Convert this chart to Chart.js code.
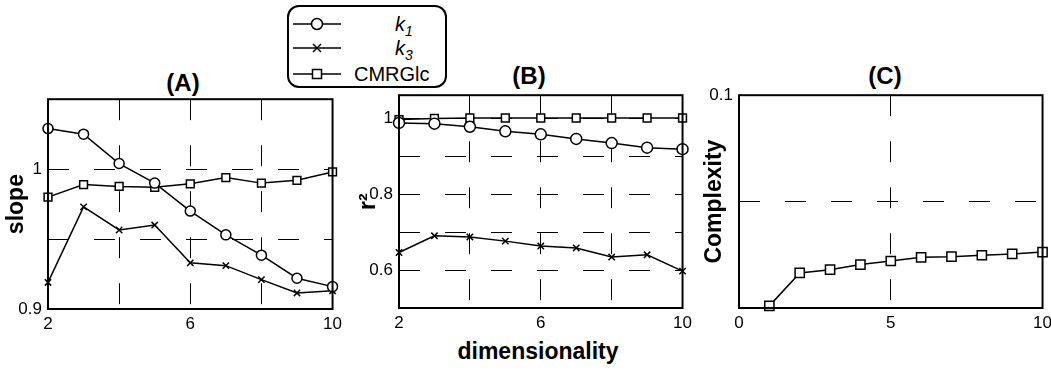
<!DOCTYPE html>
<html>
<head>
<meta charset="utf-8">
<script src="https://cdn.jsdelivr.net/npm/chart.js@4/dist/chart.umd.min.js"></script>
<style>
  body { margin: 0; background: #fff; width: 1051px; height: 372px; position: relative; overflow: hidden; font-family: "Liberation Sans", Arial, sans-serif; }
  canvas { position: absolute; }
  .ttl { position: absolute; font-weight: bold; font-size: 24px; line-height: 24px; transform: translate(-50%, -50%); white-space: nowrap; }
  #legend { position: absolute; left: 287px; top: 5px; width: 156px; height: 79px; border: 2px solid #000; border-radius: 12px; }
  .row { position: absolute; left: 4px; height: 22px; font-size: 20px; line-height: 22px; }
  .row svg { position: absolute; left: 0; top: 1px; }
  .row span { position: absolute; white-space: nowrap; }
</style>
</head>
<body>
<div class="ttl" style="left:183px; top:83px">(A)</div>
<div class="ttl" style="left:529px; top:76px">(B)</div>
<div class="ttl" style="left:885px; top:76px">(C)</div>

<div id="legend">
  <div class="row" style="top:6px">
    <svg width="48" height="20"><line x1="0" y1="10" x2="48" y2="10" stroke="#000" stroke-width="1.5"/><circle cx="24" cy="10" r="5.5" fill="#fff" stroke="#000" stroke-width="1.5"/></svg>
    <span style="left:102px; font-style:italic">k<sub style="font-size:14px">1</sub></span>
  </div>
  <div class="row" style="top:30px">
    <svg width="48" height="20"><line x1="0" y1="10" x2="48" y2="10" stroke="#000" stroke-width="1.5"/><path d="M20 6 L28 14 M28 6 L20 14" stroke="#000" stroke-width="1.5"/></svg>
    <span style="left:102px; font-style:italic">k<sub style="font-size:14px">3</sub></span>
  </div>
  <div class="row" style="top:56px">
    <svg width="48" height="20"><line x1="0" y1="10" x2="48" y2="10" stroke="#000" stroke-width="1.5"/><rect x="19.5" y="5.5" width="9" height="9" fill="#fff" stroke="#000" stroke-width="1.5"/></svg>
    <span style="left:61px">CMRGlc</span>
  </div>
</div>

<div class="ttl" style="left:538px; top:351px; font-size:23px">dimensionality</div>

<canvas id="chartA" width="347" height="266" style="left:0px; top:83px"></canvas>
<canvas id="chartB" width="352" height="269" style="left:345px; top:79px"></canvas>
<canvas id="chartC" width="362" height="269" style="left:695px; top:79px"></canvas>

<script>
// x values
const dims = [2, 3, 4, 5, 6, 7, 8, 9, 10];
const complexityDims = [1, 2, 3, 4, 5, 6, 7, 8, 9, 10];

// (A) slope
const slopeK1 = [1.029, 1.025, 1.004, 0.990, 0.970, 0.953, 0.9385, 0.922, 0.916];
const slopeK3 = [0.919, 0.973, 0.9565, 0.960, 0.933, 0.931, 0.921, 0.9115, 0.913];
const slopeCMRGlc = [0.980, 0.989, 0.9876, 0.987, 0.9895, 0.994, 0.990, 0.992, 0.998];

// (B) r^2
const r2K1 = [0.987, 0.985, 0.977, 0.965, 0.957, 0.945, 0.934, 0.922, 0.918];
const r2K3 = [0.646, 0.690, 0.687, 0.676, 0.663, 0.658, 0.634, 0.640, 0.597];
const r2CMRGlc = [0.996, 0.999, 1.0, 1.0, 1.0, 1.0, 1.0, 1.0, 1.0];

// (C) complexity
const complexityVals = [0.001, 0.0165, 0.018, 0.0204, 0.0221, 0.0238, 0.0241, 0.0248, 0.0254, 0.0263];

// tick labels that are shown
const slopeTickLabels = [0.9, 1];
const r2TickLabels = [0.6, 0.8, 1];
const complexityTickLabels = [0.1];
const dimTickLabels = [2, 6, 10];
const complexityDimTickLabels = [0, 5, 10];

const FONT = "'Liberation Sans', Arial, sans-serif";

function pts(xs, ys) {
  return xs.map((x, i) => ({ x: x, y: ys[i] }));
}

function onlyLabels(list) {
  return function(v) {
    for (let i = 0; i < list.length; i++) {
      if (Math.abs(v - list[i]) < 1e-6) return String(list[i]);
    }
    return "";
  };
}

// black box around the plot area
const frame = {
  id: "frame",
  afterDraw(chart) {
    const a = chart.chartArea;
    const ctx = chart.ctx;
    ctx.save();
    ctx.strokeStyle = "#000";
    ctx.lineWidth = 2;
    ctx.strokeRect(a.left, a.top, a.right - a.left, a.bottom - a.top);
    ctx.restore();
  }
};

function series(data, style, radius) {
  return {
    data: data,
    borderColor: "#000",
    borderWidth: 1.5,
    backgroundColor: "#fff",
    pointStyle: style,
    pointRadius: radius,
    pointBorderWidth: 1.5,
    pointBackgroundColor: "#fff",
    pointBorderColor: "#000",
    tension: 0,
    clip: false
  };
}

function panel(id, datasets, o) {
  new Chart(document.getElementById(id), {
    type: "line",
    data: { datasets: datasets },
    plugins: [frame],
    options: {
      responsive: false,
      animation: false,
      events: [],
      layout: { padding: { top: 12, right: 12, left: 0, bottom: 0 } },
      plugins: { legend: { display: false }, tooltip: { enabled: false } },
      scales: {
        x: {
          type: "linear",
          min: o.xmin, max: o.xmax,
          afterFit(s) { s.height = 40; },
          ticks: { stepSize: o.xstep, callback: onlyLabels(o.xlabels), color: "#000", padding: 5, maxRotation: 0, autoSkip: false, font: { family: FONT, size: 17 } },
          grid: { color: "#000", lineWidth: 1, drawTicks: false },
          border: { display: false, dash: [21, 25] }
        },
        y: {
          type: "linear",
          min: o.ymin, max: o.ymax,
          afterFit(s) { s.width = o.yWidth; },
          ticks: { stepSize: o.ystep, callback: onlyLabels(o.ylabels), color: "#000", padding: 6, autoSkip: false, font: { family: FONT, size: 17 } },
          grid: { color: "#000", lineWidth: 1, drawTicks: false },
          border: { display: false, dash: [21, 25] },
          title: { display: true, text: o.ytitle, color: "#000", padding: { top: o.titlePad, bottom: 0 }, font: { family: FONT, size: 23, weight: "bold" } }
        }
      }
    }
  });
}

panel("chartA", [
  series(pts(dims, slopeK1), "circle", 5),
  series(pts(dims, slopeK3), "crossRot", 4.5),
  series(pts(dims, slopeCMRGlc), "rect", 5.5)
], { xmin: 2, xmax: 10, xstep: 2, xlabels: dimTickLabels, ymin: 0.9, ymax: 1.05, ystep: 0.05, ylabels: slopeTickLabels, yWidth: 48, ytitle: "slope", titlePad: 3 });

panel("chartB", [
  series(pts(dims, r2K1), "circle", 5.5),
  series(pts(dims, r2K3), "crossRot", 4.5),
  series(pts(dims, r2CMRGlc), "rect", 5.5)
], { xmin: 2, xmax: 10, xstep: 2, xlabels: dimTickLabels, ymin: 0.5, ymax: 1.06, ystep: 0.1, ylabels: r2TickLabels, yWidth: 54, ytitle: "r²", titlePad: 10 });

panel("chartC", [
  series(pts(complexityDims, complexityVals), "rect", 6.5)
], { xmin: 0, xmax: 10, xstep: 5, xlabels: complexityDimTickLabels, ymin: 0, ymax: 0.1, ystep: 0.05, ylabels: complexityTickLabels, yWidth: 44, ytitle: "Complexity", titlePad: 6 });
</script>
</body>
</html>
